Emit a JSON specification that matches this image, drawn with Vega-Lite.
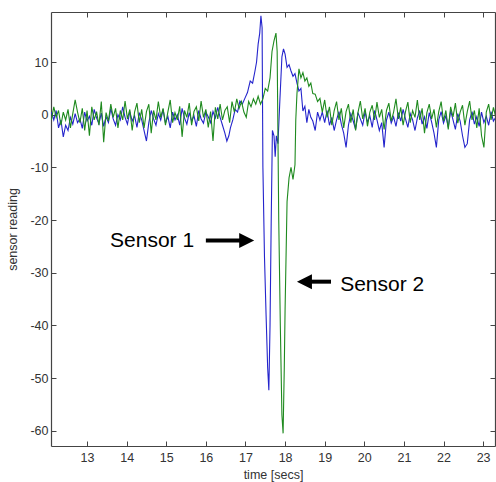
{
 "$schema": "https://vega.github.io/schema/vega-lite/v6.json",
 "width": 444, "height": 434,
 "autosize": {"type": "none"},
 "padding": {"left": 51, "top": 12, "right": 1, "bottom": 36},
 "background": "white",
 "view": {"stroke": null},
 "config": {
  "font": "Liberation Sans",
  "axis": {"grid": false, "domainColor": "#444", "domainWidth": 1.2, "tickColor": "#444", "tickSize": -5, "labelColor": "#333", "labelFontSize": 12.5, "titleFontSize": 12.5, "titleFontWeight": "normal", "titleColor": "#333", "labelFont": "Liberation Sans", "titleFont": "Liberation Sans"}
 },
 "datasets": {
  "s1": [
   {"t":12.10,"v":0.5},{"t":12.16,"v":-1.0},{"t":12.22,"v":0.8},{"t":12.28,"v":-2.5},{"t":12.34,"v":-1.0},{"t":12.40,"v":-4.2},{"t":12.46,"v":-2.0},{"t":12.52,"v":-3.0},{"t":12.58,"v":-0.5},{"t":12.64,"v":-1.8},{"t":12.70,"v":0.2},{"t":12.76,"v":-1.5},{"t":12.82,"v":-0.8},{"t":12.88,"v":-2.6},{"t":12.94,"v":0.5},{"t":13.00,"v":-1.2},{"t":13.06,"v":-0.3},{"t":13.12,"v":-2.0},{"t":13.18,"v":1.0},{"t":13.24,"v":-0.6},{"t":13.30,"v":-1.7},{"t":13.36,"v":0.3},{"t":13.42,"v":-2.2},{"t":13.48,"v":-0.4},{"t":13.54,"v":-1.5},{"t":13.60,"v":1.2},{"t":13.66,"v":-0.8},{"t":13.72,"v":-2.0},{"t":13.78,"v":0.0},{"t":13.84,"v":-1.0},{"t":13.90,"v":1.5},{"t":13.96,"v":-0.5},{"t":14.02,"v":-1.8},{"t":14.08,"v":0.6},{"t":14.14,"v":-1.2},{"t":14.20,"v":-0.2},{"t":14.26,"v":-2.4},{"t":14.32,"v":0.4},{"t":14.38,"v":-1.0},{"t":14.44,"v":-3.0},{"t":14.50,"v":-5.0},{"t":14.56,"v":-1.5},{"t":14.62,"v":0.8},{"t":14.68,"v":-0.8},{"t":14.74,"v":-2.0},{"t":14.80,"v":0.2},{"t":14.86,"v":-1.0},{"t":14.92,"v":1.0},{"t":14.98,"v":-1.6},{"t":15.04,"v":-0.3},{"t":15.10,"v":-2.5},{"t":15.16,"v":0.5},{"t":15.22,"v":-1.0},{"t":15.28,"v":0.0},{"t":15.34,"v":-2.0},{"t":15.40,"v":1.2},{"t":15.46,"v":-0.6},{"t":15.52,"v":-1.8},{"t":15.58,"v":0.4},{"t":15.64,"v":-1.2},{"t":15.70,"v":-0.2},{"t":15.76,"v":-2.2},{"t":15.82,"v":0.8},{"t":15.88,"v":-0.8},{"t":15.94,"v":-1.6},{"t":16.00,"v":0.5},{"t":16.06,"v":-0.4},{"t":16.12,"v":-1.5},{"t":16.18,"v":0.6},{"t":16.24,"v":-0.6},{"t":16.30,"v":1.4},{"t":16.36,"v":-0.5},{"t":16.42,"v":-2.0},{"t":16.48,"v":-3.5},
   {"t":16.53,"v":-5.0},{"t":16.58,"v":-4.0},{"t":16.62,"v":-2.5},{"t":16.68,"v":-1.0},{"t":16.74,"v":1.0},{"t":16.80,"v":0.5},{"t":16.86,"v":2.6},{"t":16.92,"v":2.0},{"t":16.99,"v":3.2},{"t":17.05,"v":4.2},{"t":17.12,"v":6.4},{"t":17.18,"v":6.0},{"t":17.24,"v":8.3},{"t":17.28,"v":10.0},{"t":17.32,"v":13.4},{"t":17.36,"v":15.5},{"t":17.39,"v":18.8},{"t":17.42,"v":16.5},{"t":17.44,"v":-10.0},{"t":17.48,"v":-27.0},{"t":17.52,"v":-38.0},{"t":17.56,"v":-48.0},{"t":17.59,"v":-52.3},{"t":17.62,"v":-40.0},{"t":17.65,"v":-20.0},{"t":17.68,"v":-3.0},{"t":17.72,"v":-4.0},{"t":17.75,"v":-8.0},{"t":17.78,"v":-4.0},{"t":17.82,"v":-5.5},{"t":17.87,"v":3.0},{"t":17.92,"v":11.0},{"t":17.96,"v":12.5},{"t":18.00,"v":11.5},{"t":18.05,"v":9.0},{"t":18.10,"v":9.5},{"t":18.15,"v":8.3},{"t":18.20,"v":7.3},{"t":18.25,"v":7.8},{"t":18.30,"v":6.0},{"t":18.35,"v":4.5},{"t":18.40,"v":5.0},{"t":18.45,"v":0.7},{"t":18.50,"v":1.6},{"t":18.55,"v":-1.5},{"t":18.60,"v":1.0},{"t":18.65,"v":-0.5},{"t":18.70,"v":-1.2},{"t":18.76,"v":-3.0},{"t":18.82,"v":0.5},{"t":18.88,"v":-1.0},
   {"t":18.94,"v":0.5},{"t":19.00,"v":-1.5},{"t":19.06,"v":0.8},{"t":19.12,"v":-2.0},{"t":19.18,"v":-0.5},{"t":19.24,"v":-3.0},{"t":19.30,"v":-1.0},{"t":19.36,"v":0.6},{"t":19.42,"v":-1.8},{"t":19.48,"v":-3.5},{"t":19.54,"v":-6.2},{"t":19.60,"v":-2.0},{"t":19.66,"v":0.2},{"t":19.72,"v":-1.2},{"t":19.78,"v":-2.8},{"t":19.84,"v":0.4},{"t":19.90,"v":-0.8},{"t":19.96,"v":-2.0},{"t":20.02,"v":0.6},{"t":20.08,"v":-1.4},{"t":20.14,"v":-0.2},{"t":20.20,"v":-2.4},{"t":20.26,"v":0.8},{"t":20.32,"v":-1.0},{"t":20.38,"v":-3.0},{"t":20.44,"v":-1.5},{"t":20.50,"v":-6.2},{"t":20.56,"v":-1.0},{"t":20.62,"v":0.5},{"t":20.68,"v":-1.6},{"t":20.74,"v":-0.4},{"t":20.80,"v":-2.2},{"t":20.86,"v":0.4},{"t":20.92,"v":-1.2},{"t":20.98,"v":1.0},{"t":21.04,"v":-0.8},{"t":21.10,"v":-2.4},{"t":21.16,"v":0.2},{"t":21.22,"v":-1.0},{"t":21.28,"v":-3.0},{"t":21.34,"v":-0.6},{"t":21.40,"v":0.8},{"t":21.46,"v":-1.8},{"t":21.52,"v":-0.4},{"t":21.58,"v":-2.6},{"t":21.64,"v":0.4},{"t":21.70,"v":-1.4},{"t":21.76,"v":-3.5},{"t":21.82,"v":-6.2},{"t":21.88,"v":-1.0},{"t":21.94,"v":0.6},{"t":22.00,"v":-1.6},{"t":22.06,"v":-0.2},{"t":22.12,"v":-2.4},{"t":22.18,"v":0.8},{"t":22.24,"v":-1.0},{"t":22.30,"v":-2.8},{"t":22.36,"v":0.2},{"t":22.42,"v":-1.2},{"t":22.48,"v":-4.0},{"t":22.54,"v":-6.2},{"t":22.60,"v":-5.5},{"t":22.66,"v":-1.0},{"t":22.72,"v":0.6},{"t":22.78,"v":-1.8},{"t":22.84,"v":-0.4},{"t":22.90,"v":-2.2},{"t":22.96,"v":0.5},{"t":23.02,"v":-1.5},{"t":23.08,"v":-0.3},{"t":23.14,"v":-2.0},{"t":23.20,"v":0.6},{"t":23.26,"v":-1.2},{"t":23.32,"v":-0.5}
  ],
  "s2": [
   {"t":12.10,"v":-1.0},{"t":12.16,"v":1.5},{"t":12.22,"v":-0.5},{"t":12.28,"v":0.8},{"t":12.34,"v":-2.0},{"t":12.40,"v":0.5},{"t":12.46,"v":-1.0},{"t":12.52,"v":1.0},{"t":12.58,"v":-2.5},{"t":12.64,"v":0.2},{"t":12.70,"v":2.8},{"t":12.76,"v":0.5},{"t":12.82,"v":-1.5},{"t":12.88,"v":1.2},{"t":12.94,"v":-3.0},{"t":13.00,"v":0.8},{"t":13.06,"v":-4.0},{"t":13.12,"v":1.5},{"t":13.18,"v":-1.0},{"t":13.24,"v":0.6},{"t":13.30,"v":-2.0},{"t":13.36,"v":2.5},{"t":13.42,"v":-5.2},{"t":13.48,"v":0.4},{"t":13.54,"v":-1.2},{"t":13.60,"v":2.0},{"t":13.66,"v":-0.5},{"t":13.72,"v":1.2},{"t":13.78,"v":-2.5},{"t":13.84,"v":0.8},{"t":13.90,"v":-1.0},{"t":13.96,"v":2.6},{"t":14.02,"v":-0.8},{"t":14.08,"v":1.0},{"t":14.14,"v":-3.0},{"t":14.20,"v":0.5},{"t":14.26,"v":2.2},{"t":14.32,"v":-1.5},{"t":14.38,"v":1.0},{"t":14.44,"v":-2.5},{"t":14.50,"v":0.6},{"t":14.56,"v":2.0},{"t":14.62,"v":-3.5},{"t":14.68,"v":0.8},{"t":14.74,"v":-1.0},{"t":14.80,"v":2.5},{"t":14.86,"v":-0.5},{"t":14.92,"v":1.2},{"t":14.98,"v":-2.0},{"t":15.04,"v":0.5},{"t":15.10,"v":2.8},{"t":15.16,"v":-1.5},{"t":15.22,"v":0.4},{"t":15.28,"v":-1.0},{"t":15.34,"v":1.6},{"t":15.40,"v":-4.2},{"t":15.46,"v":0.8},{"t":15.52,"v":-0.5},{"t":15.58,"v":2.2},{"t":15.64,"v":-2.0},{"t":15.70,"v":0.6},{"t":15.76,"v":1.5},{"t":15.82,"v":-1.2},{"t":15.88,"v":2.6},{"t":15.94,"v":-0.5},{"t":16.00,"v":1.0},{"t":16.06,"v":-2.4},{"t":16.12,"v":0.6},{"t":16.18,"v":-5.0},{"t":16.24,"v":1.4},{"t":16.30,"v":-0.8},{"t":16.36,"v":2.0},{"t":16.42,"v":-1.0},{"t":16.48,"v":0.8},
   {"t":16.54,"v":1.5},{"t":16.60,"v":-1.5},{"t":16.66,"v":2.5},{"t":16.72,"v":0.5},{"t":16.78,"v":3.0},{"t":16.84,"v":1.2},{"t":16.90,"v":2.5},{"t":16.96,"v":0.5},{"t":17.02,"v":-0.5},{"t":17.08,"v":2.5},{"t":17.14,"v":1.5},{"t":17.20,"v":3.0},{"t":17.26,"v":2.0},{"t":17.32,"v":3.5},{"t":17.38,"v":2.0},{"t":17.44,"v":3.0},{"t":17.50,"v":5.0},{"t":17.56,"v":4.5},{"t":17.62,"v":7.0},{"t":17.67,"v":12.0},{"t":17.72,"v":14.0},{"t":17.77,"v":15.5},{"t":17.80,"v":12.0},{"t":17.84,"v":-20.0},{"t":17.88,"v":-40.0},{"t":17.92,"v":-57.0},{"t":17.95,"v":-60.5},{"t":17.98,"v":-48.0},{"t":18.00,"v":-37.0},{"t":18.05,"v":-16.5},{"t":18.10,"v":-12.0},{"t":18.15,"v":-10.0},{"t":18.20,"v":-12.3},{"t":18.25,"v":-9.5},{"t":18.27,"v":-1.0},{"t":18.30,"v":4.0},{"t":18.35,"v":8.7},{"t":18.40,"v":7.0},{"t":18.45,"v":8.0},{"t":18.50,"v":6.4},{"t":18.55,"v":7.0},{"t":18.60,"v":5.4},{"t":18.65,"v":6.0},{"t":18.70,"v":4.0},{"t":18.76,"v":3.9},{"t":18.82,"v":2.5},{"t":18.88,"v":3.1},
   {"t":18.94,"v":0.5},{"t":19.00,"v":2.8},{"t":19.06,"v":-0.5},{"t":19.12,"v":1.5},{"t":19.18,"v":-2.0},{"t":19.24,"v":0.8},{"t":19.30,"v":2.5},{"t":19.36,"v":-1.0},{"t":19.42,"v":1.2},{"t":19.48,"v":-2.5},{"t":19.54,"v":0.6},{"t":19.60,"v":2.0},{"t":19.66,"v":-1.5},{"t":19.72,"v":1.0},{"t":19.78,"v":-3.0},{"t":19.84,"v":0.4},{"t":19.90,"v":2.6},{"t":19.96,"v":-0.8},{"t":20.02,"v":1.2},{"t":20.08,"v":-2.2},{"t":20.14,"v":0.5},{"t":20.20,"v":1.8},{"t":20.26,"v":-1.0},{"t":20.32,"v":2.4},{"t":20.38,"v":-0.5},{"t":20.44,"v":1.0},{"t":20.50,"v":-2.8},{"t":20.56,"v":0.8},{"t":20.62,"v":2.2},{"t":20.68,"v":-1.2},{"t":20.74,"v":0.5},{"t":20.80,"v":3.0},{"t":20.86,"v":-0.8},{"t":20.92,"v":1.4},{"t":20.98,"v":-2.0},{"t":21.04,"v":0.6},{"t":21.10,"v":2.4},{"t":21.16,"v":-1.5},{"t":21.22,"v":0.8},{"t":21.28,"v":-0.5},{"t":21.34,"v":2.8},{"t":21.40,"v":-1.0},{"t":21.46,"v":1.2},{"t":21.52,"v":-3.5},{"t":21.58,"v":0.4},{"t":21.64,"v":2.0},{"t":21.70,"v":-0.8},{"t":21.76,"v":1.0},{"t":21.82,"v":-2.4},{"t":21.88,"v":0.6},{"t":21.94,"v":2.5},{"t":22.00,"v":-1.2},{"t":22.06,"v":0.8},{"t":22.12,"v":-2.8},{"t":22.18,"v":1.5},{"t":22.24,"v":-0.4},{"t":22.30,"v":2.2},{"t":22.36,"v":-1.6},{"t":22.42,"v":0.5},{"t":22.48,"v":1.8},{"t":22.54,"v":-2.0},{"t":22.60,"v":0.6},{"t":22.66,"v":2.6},{"t":22.72,"v":-1.0},{"t":22.78,"v":0.8},{"t":22.84,"v":-2.5},{"t":22.90,"v":1.2},{"t":22.96,"v":-4.0},{"t":23.02,"v":-6.2},{"t":23.08,"v":0.5},{"t":23.14,"v":2.0},{"t":23.20,"v":-1.0},{"t":23.26,"v":1.4},{"t":23.32,"v":-0.5}
  ],
  "shafts": [{"t":16.0,"t2":16.9,"v":-23.9},{"t":18.62,"t2":19.16,"v":-31.7}],
  "heads": [{"t":17.22,"v":-23.9,"dir":"right"},{"t":18.30,"v":-31.7,"dir":"left"}],
  "notes": [{"t":13.58,"v":-24.0,"label":"Sensor 1"},{"t":19.39,"v":-32.4,"label":"Sensor 2"}]
 },
 "layer": [
  {
   "data": {"name": "s1"},
   "mark": {"type": "line", "color": "#2424cc", "strokeWidth": 1.1, "clip": true},
   "encoding": {
    "x": {"field": "t", "type": "quantitative", "scale": {"domain": [12.09, 23.3], "nice": false, "zero": false},
          "axis": {"orient": "bottom", "values": [13,14,15,16,17,18,19,20,21,22,23], "title": "time [secs]", "labelPadding": 10, "titlePadding": 5}},
    "y": {"field": "v", "type": "quantitative", "scale": {"domain": [-62.9, 19.5], "nice": false, "zero": false},
          "axis": {"orient": "left", "values": [-60,-50,-40,-30,-20,-10,0,10], "title": "sensor reading", "labelPadding": 8, "labelExpr": "toString(datum.value)", "titlePadding": 10}}
   }
  },
  {
   "data": {"name": "s2"},
   "mark": {"type": "line", "color": "#1f8a1f", "strokeWidth": 1.1, "clip": true},
   "encoding": {
    "x": {"field": "t", "type": "quantitative", "axis": {"orient": "top", "values": [13,14,15,16,17,18,19,20,21,22,23], "labels": false, "title": null}},
    "y": {"field": "v", "type": "quantitative", "axis": {"orient": "right", "values": [-60,-50,-40,-30,-20,-10,0,10], "labels": false, "title": null}}
   }
  },
  {
   "data": {"name": "shafts"},
   "mark": {"type": "rule", "color": "black", "strokeWidth": 4},
   "encoding": {
    "x": {"field": "t", "type": "quantitative", "axis": null},
    "x2": {"field": "t2"},
    "y": {"field": "v", "type": "quantitative", "axis": null}
   }
  },
  {
   "data": {"name": "heads"},
   "mark": {"type": "point", "filled": true, "opacity": 1, "color": "black", "size": 900},
   "encoding": {
    "x": {"field": "t", "type": "quantitative", "axis": null},
    "y": {"field": "v", "type": "quantitative", "axis": null},
    "shape": {"field": "dir", "type": "nominal", "legend": null, "scale": {"domain": ["right", "left"], "range": ["M0,0L-1,-0.5L-1,0.5Z", "M0,0L1,-0.5L1,0.5Z"]}}
   }
  },
  {
   "data": {"name": "notes"},
   "mark": {"type": "text", "align": "left", "baseline": "middle", "fontSize": 21, "font": "Liberation Sans", "color": "black"},
   "encoding": {
    "x": {"field": "t", "type": "quantitative", "axis": null},
    "y": {"field": "v", "type": "quantitative", "axis": null},
    "text": {"field": "label"}
   }
  }
 ],
 "resolve": {"axis": {"x": "independent", "y": "independent"}}
}
